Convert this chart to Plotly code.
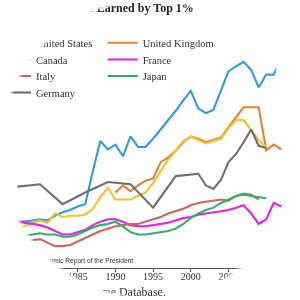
import plotly.graph_objects as go

# ---------------- data (share of income earned by top 1%, %) ----------------
years_us = list(range(1977, 2013))
us = [9.8, 9.8, 9.9, 10.0, 9.9, 10.3, 10.6, 10.8, 11.1, 11.3,
      14.1, 16.7, 16.0, 16.4, 15.4, 17.1, 16.2, 16.2, 16.9, 17.7,
      18.4, 19.3, 20.2, 21.0, 19.5, 19.1, 19.4, 21.0, 22.7, 23.1,
      23.5, 22.8, 21.3, 22.4, 22.4, 24.0]

years_uk = list(range(1990, 2013))
uk = [12.3, 12.9, 12.4, 12.9, 13.3, 13.5, 14.9, 15.3, 15.9, 16.6,
      17.1, 16.9, 16.6, 16.8, 17.0, 17.9, 18.7, 19.6, 19.6, 19.6,
      15.9, 16.4, 16.0]

years_ca = list(range(1977, 2011))
canada = [9.4, 9.4, 9.7, 9.9, 9.7, 10.5, 10.2, 10.3, 10.3, 10.4,
          10.9, 11.9, 12.7, 11.7, 11.7, 11.7, 12.0, 12.3, 13.1, 14.1,
          15.1, 15.9, 16.7, 17.1, 16.8, 16.5, 16.7, 16.9, 17.8, 18.5,
          18.5, 17.6, 16.8, 16.2]

years_fr = list(range(1977, 2013))
france = [9.8, 9.7, 9.6, 9.5, 9.3, 9.0, 8.7, 8.7, 8.9, 9.1,
          9.5, 9.8, 10.0, 10.0, 9.8, 9.5, 9.4, 9.4, 9.5, 9.6,
          9.7, 9.9, 10.1, 10.2, 10.4, 10.5, 10.6, 10.7, 10.8, 11.0,
          11.2, 10.5, 9.6, 10.0, 11.4, 11.1]

years_it = list(range(1977, 2010))
italy = [8.2, 8.2, 8.2, 8.3, 8.0, 7.7, 7.7, 7.8, 8.1, 8.4,
         8.7, 9.0, 9.2, 9.4, 9.5, 9.6, 9.6, 9.8, 10.0, 10.2,
         10.5, 10.7, 10.9, 11.2, 11.4, 11.5, 11.6, 11.7, 11.6, 12.0,
         12.2, 12.1, 11.7]

years_jp = list(range(1977, 2011))
japan = [8.6, 8.6, 8.7, 8.8, 8.7, 8.7, 8.5, 8.5, 8.7, 9.0,
         9.3, 9.5, 9.6, 9.8, 9.4, 8.9, 8.7, 8.7, 8.8, 8.9,
         9.0, 9.2, 9.6, 10.1, 10.5, 10.8, 11.0, 11.4, 11.7, 12.0,
         12.1, 12.0, 11.9, 11.8]

years_de = [1977, 1980, 1983, 1986, 1989, 1992, 1995, 1998, 2001, 2002,
            2003, 2004, 2005, 2006, 2007, 2008, 2009, 2010]
germany = [12.8, 13.0, 11.3, 12.3, 13.2, 13.0, 11.0, 13.7, 13.9, 12.9,
           12.6, 13.4, 14.9, 15.6, 16.6, 17.7, 16.3, 16.1]

tick_years = [1980, 1985, 1990, 1995, 2000, 2005, 2010]

title_text = "Share of Income Earned by Top 1%"
note_text = "Source: Economic Report of the President"
source_text = "World Top Income Database."

# ---------------- styling ----------------
SERIF = "Liberation Serif"
SANS = "Liberation Sans"

# name, x, y, colour, legend id, (legend text-left px, legend row-centre px)
series = [
    ("United States", years_us, us, "#2B9FD8", "legend", (36, 42.7)),
    ("United Kingdom", years_uk, uk, "#E8812F", "legend2", (142.7, 42.7)),
    ("Canada", years_ca, canada, "#F6C325", "legend3", (36, 59.5)),
    ("France", years_fr, france, "#E322E3", "legend4", (142.7, 59.5)),
    ("Italy", years_it, italy, "#C8675F", "legend5", (36, 76)),
    ("Japan", years_jp, japan, "#2EB26B", "legend6", (142.7, 76)),
    ("Germany", years_de, germany, "#6F6F6F", "legend7", (36, 92.5)),
]

# geometry
L, R, T, B = 17, 11, 30, 32
W = 300 - L - R
H = 300 - T - B


def px(x):
    return (x - L) / W


def py(y):
    return (300 - B - y) / H


fig = go.Figure()
legends = {}
for name, xs, ys, col, lg, (tx, ty) in series:
    fig.add_trace(go.Scatter(x=xs, y=ys, mode="lines", name=name,
                             line=dict(color=col, width=2.1),
                             legend=lg))
    legends[lg] = dict(x=px(tx - 40), xanchor="left", y=py(ty),
                       yanchor="middle", orientation="v",
                       font=dict(family=SERIF, size=10.5, color="#333"),
                       bgcolor="rgba(0,0,0,0)", borderwidth=0)

fig.update_layout(
    width=300, height=300,
    margin=dict(l=L, r=R, t=T, b=B, autoexpand=False),
    paper_bgcolor="white", plot_bgcolor="white",
    showlegend=True,
    xaxis=dict(range=[1976.95, 2013.02], tickvals=tick_years,
               showgrid=False, zeroline=False, showline=True,
               linecolor="#555", linewidth=1, ticks="outside", ticklen=3,
               tickcolor="#555", ticklabelstandoff=-4,
               tickfont=dict(family=SERIF, size=10, color="#333")),
    yaxis=dict(range=[5.827, 26.221], visible=False, showgrid=False),
    annotations=[
        dict(text="<b>" + title_text + "</b>", xref="paper", yref="paper",
             x=px(8), y=py(8), xanchor="left", yanchor="middle",
             showarrow=False, font=dict(family=SERIF, size=12, color="#222")),
        dict(text=note_text, xref="paper", yref="paper",
             x=px(135), y=py(261), xanchor="right", yanchor="middle",
             showarrow=False, font=dict(family=SANS, size=6.6, color="#333")),
        dict(text=source_text, xref="paper", yref="paper",
             x=px(168), y=py(292), xanchor="right", yanchor="middle",
             showarrow=False, font=dict(family=SERIF, size=12, color="#333")),
    ],
    **legends,
)

js = """
var gd = document.getElementById('{plot_id}');
var m = 'radial-gradient(circle at 150px 149px, #000 147px, rgba(0,0,0,0) 151px)';
gd.style.webkitMaskImage = m;
gd.style.maskImage = m;
"""

fig.write_html("out.html", post_script=js)
